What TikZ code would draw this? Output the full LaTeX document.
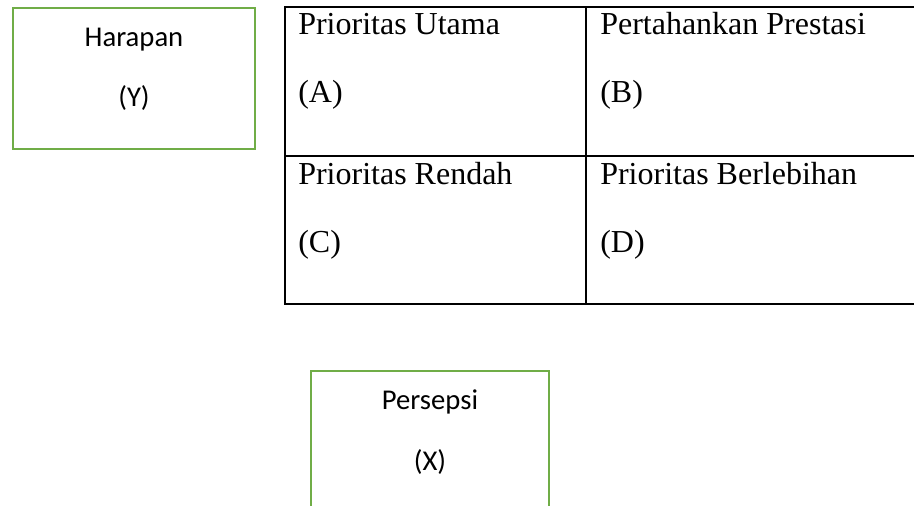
\documentclass[tikz,border=0pt]{standalone}
\usepackage{fontspec}
\setmainfont{Liberation Serif}
\newfontfamily\calibri{Carlito}
\usetikzlibrary{positioning}
\definecolor{boxgreen}{HTML}{70AD47}

\begin{document}
\begin{tikzpicture}[x=0.75pt,y=0.75pt,
    varbox/.style={draw=boxgreen,line width=2pt,inner sep=0pt},
    vartext/.style={anchor=base,inner sep=0pt,font=\calibri\fontsize{21.5}{24}\selectfont},
    cell/.style={anchor=base west,inner sep=0pt,font=\fontsize{24}{28}\selectfont},
    grid/.style={line width=1.5pt}]
    \useasboundingbox (0,0) rectangle (914,506);
    \clip (0,0) rectangle (914,506);
    % variabel Y
    \node[varbox,minimum width=181.5pt,minimum height=105.75pt] (y_box) at (134,427.5) {};
    \node[vartext] (y_name) at (134,459) {Harapan};
    \node[vartext] (y_sym)  at (134,399) {(Y)};
    % kuadran
    \coordinate (tl) at (285,499);
    \coordinate (bl) at (285,202);
    \draw[grid] (930,499) -- (tl) -- (bl) -- (930,202);
    \draw[grid] (285,350) -- (930,350);
    \draw[grid] (586,499) -- (586,202);
    \node[cell] (q_a)  at (298,471) {Prioritas Utama};
    \node[cell] (q_a2) at (298,403) {(A)};
    \node[cell] (q_b)  at (600,471) {Pertahankan Prestasi};
    \node[cell] (q_b2) at (600,403) {(B)};
    \node[cell] (q_c)  at (298,321) {Prioritas Rendah};
    \node[cell] (q_c2) at (298,253) {(C)};
    \node[cell] (q_d)  at (600,321) {Prioritas Berlebihan};
    \node[cell] (q_d2) at (600,253) {(D)};
    % variabel X
    \node[varbox,minimum width=178.5pt,minimum height=150pt] (x_box) at (430,35) {};
    \node[vartext] (x_name) at (430,96) {Persepsi};
    \node[vartext] (x_sym)  at (430,35) {(X)};
\end{tikzpicture}
\end{document}
